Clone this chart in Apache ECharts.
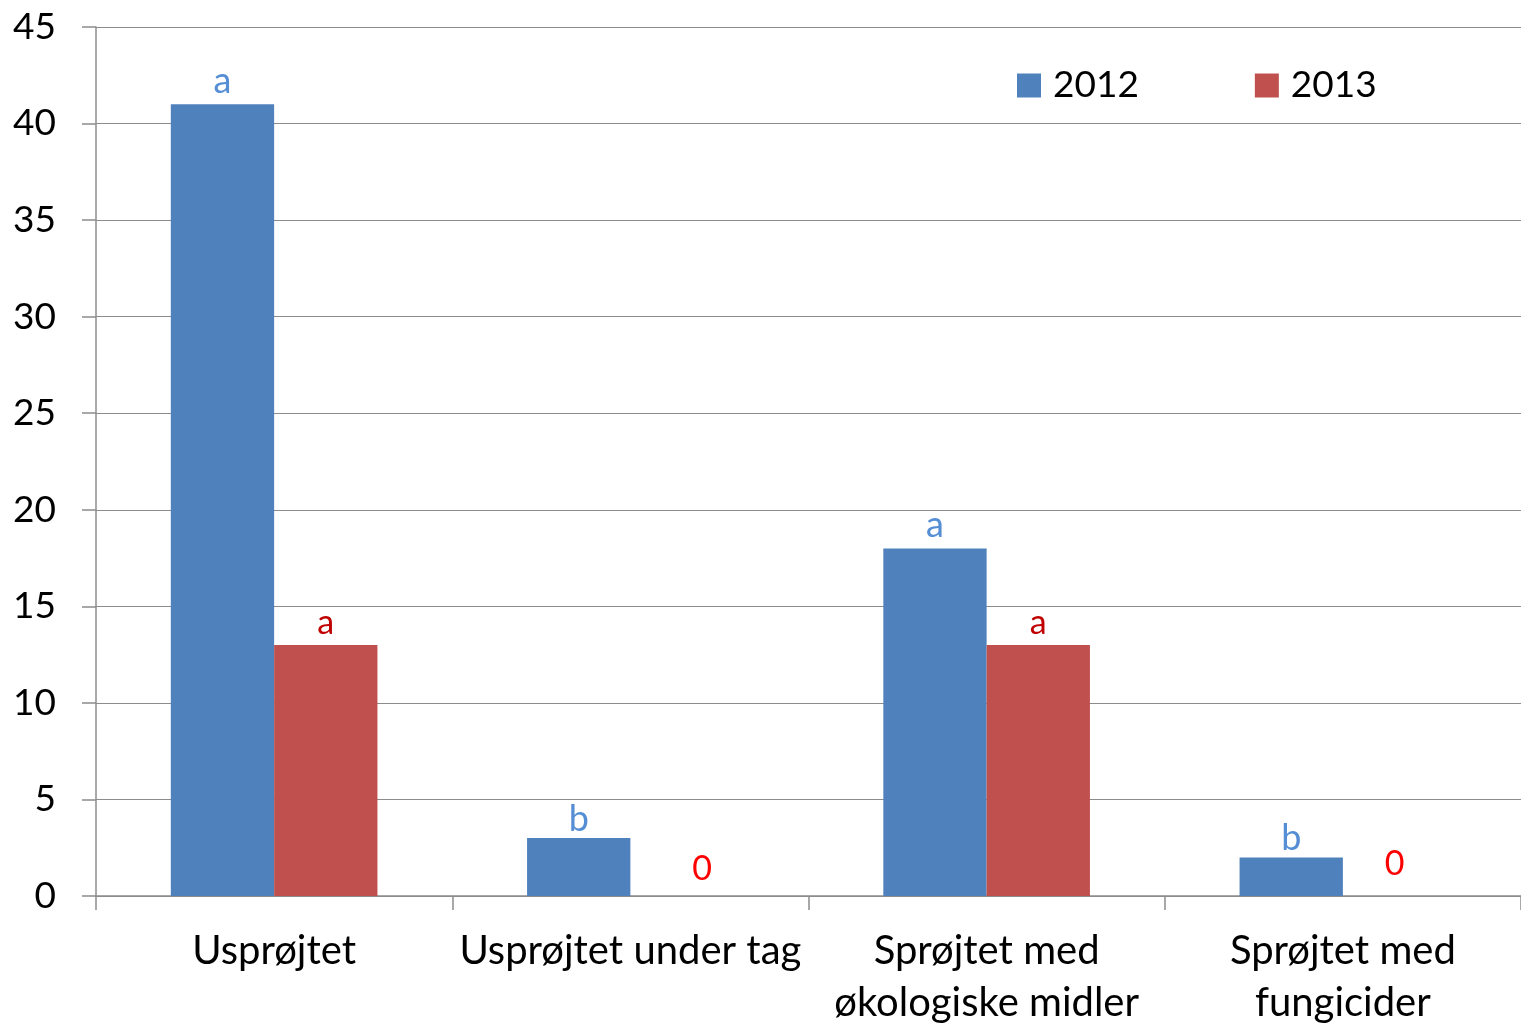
<!DOCTYPE html>
<html>
<head>
<meta charset="utf-8">
<script src="https://cdn.jsdelivr.net/npm/echarts@6/dist/echarts.min.js"></script>
<style>
  html, body { margin: 0; padding: 0; background: #fff; overflow: hidden; }
  #chart { width: 1521px; height: 1024px; }
</style>
</head>
<body>
<div id="chart"></div>
<script>
// data
const categories = ['Usprøjtet', 'Usprøjtet under tag', 'Sprøjtet med\nøkologiske midler', 'Sprøjtet med\nfungicider']
const values2012 = [41, 3, 18, 2]
const values2013 = [13, 0, 13, 0]
const letters2012 = ['a', 'b', 'a', 'b']
const letters2013 = ['a', '0', 'a', '0']
const yTicks = [0, 5, 10, 15, 20, 25, 30, 35, 40, 45]

const font = 'Lato, "Open Sans", sans-serif'

// 'b' has an ascender, so it sits a bit closer to the bar
function labelDistance(letter, i) {
  if (letter === 'b') return 1
  if (letter === '0') return i === 3 ? 15 : 10
  return 5
}

// the first "0" sits a little right of its (empty) bar in the original
function labelOffset(letter, i) {
  return letter === '0' && i === 1 ? [20, 0] : [0, 0]
}

function withLabels(values, letters, colorFor) {
  return values.map((v, i) => ({
    value: v,
    label: {
      formatter: letters[i],
      color: colorFor(letters[i]),
      distance: labelDistance(letters[i], i),
      offset: labelOffset(letters[i], i)
    }
  }))
}

const chart = echarts.init(document.getElementById('chart'))
chart.setOption({
  animation: false,
  textStyle: { fontFamily: font },
  color: ['#4F81BD', '#C0504D'],
  legend: {
    data: ['2012', '2013'],
    left: 1012,
    top: 62,
    itemWidth: 24,
    itemHeight: 24,
    itemGap: 116,
    icon: 'rect',
    formatter: name => '{t|' + name + '}',
    textStyle: {
      fontSize: 37,
      color: '#000',
      fontFamily: font,
      rich: { t: { fontSize: 37, color: '#000', fontFamily: font, padding: [0, 0, 0, 7] } }
    }
  },
  grid: {
    left: 96,
    right: 0,
    top: 27,
    bottom: 128,
    containLabel: false,
    outerBoundsMode: 'none'
  },
  xAxis: {
    type: 'category',
    data: categories,
    axisLine: { lineStyle: { color: '#8c8c8c', width: 1.5 } },
    axisTick: { show: true, length: 14, lineStyle: { color: '#8c8c8c', width: 1.5 } },
    axisLabel: { color: '#000', fontSize: 40, margin: 29, lineHeight: 52, interval: 0 }
  },
  yAxis: {
    type: 'value',
    min: yTicks[0],
    max: yTicks[yTicks.length - 1],
    interval: 5,
    axisLine: { show: true, lineStyle: { color: '#8c8c8c', width: 1.5 } },
    axisTick: { show: true, length: 14, lineStyle: { color: '#8c8c8c', width: 1.5 } },
    splitLine: { lineStyle: { color: '#8c8c8c', width: 1.2 } },
    axisLabel: { color: '#000', fontSize: 37, margin: 40 }
  },
  series: [
    {
      name: '2012',
      type: 'bar',
      barGap: '0%',
      barCategoryGap: '42%',
      data: withLabels(values2012, letters2012, () => '#558ED5'),
      label: { show: true, position: 'top', fontSize: 36, fontFamily: font }
    },
    {
      name: '2013',
      type: 'bar',
      data: withLabels(values2013, letters2013, l => (l === '0' ? '#FF0000' : '#C00000')),
      label: { show: true, position: 'top', fontSize: 34, fontFamily: font }
    }
  ]
})
</script>
</body>
</html>
